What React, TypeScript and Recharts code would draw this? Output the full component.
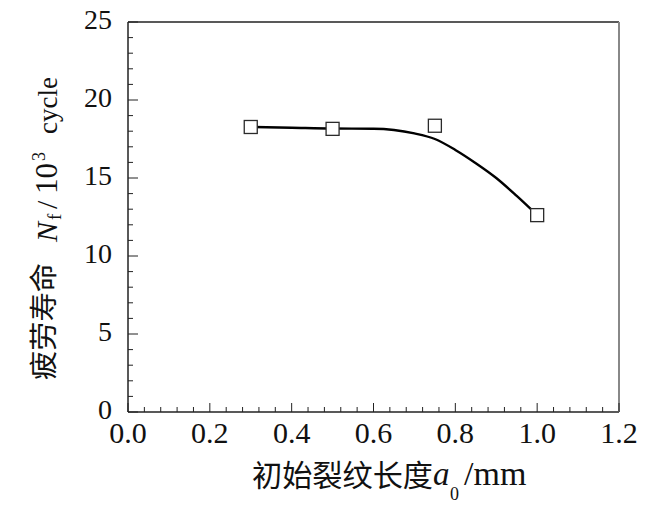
import React from "react";
import {
  ComposedChart,
  Line,
  Scatter,
  XAxis,
  YAxis,
  Label,
} from "recharts";

// measured points (initial crack length a0 in mm, fatigue life in 10^3 cycles)
const measured = [
  { x: 0.3, y: 18.27 },
  { x: 0.5, y: 18.15 },
  { x: 0.75, y: 18.35 },
  { x: 1.0, y: 12.62 },
];

// fitted curve
const fitted = [
  { x: 0.3, y: 18.27 },
  { x: 0.4, y: 18.22 },
  { x: 0.5, y: 18.17 },
  { x: 0.6, y: 18.16 },
  { x: 0.65, y: 18.08 },
  { x: 0.7, y: 17.86 },
  { x: 0.75, y: 17.5 },
  { x: 0.8, y: 16.8 },
  { x: 0.85, y: 15.95 },
  { x: 0.9, y: 15.0 },
  { x: 0.95, y: 13.85 },
  { x: 1.0, y: 12.62 },
];

const xMajor = [0, 0.2, 0.4, 0.6, 0.8, 1.0, 1.2];
const xMinor = [
  0.04, 0.08, 0.12, 0.16, 0.24, 0.28, 0.32, 0.36, 0.44, 0.48, 0.52, 0.56,
  0.64, 0.68, 0.72, 0.76, 0.84, 0.88, 0.92, 0.96, 1.04, 1.08, 1.12, 1.16,
];
const yMajor = [0, 5, 10, 15, 20, 25];
const yMinor = [1, 2, 3, 4, 6, 7, 8, 9, 11, 12, 13, 14, 16, 17, 18, 19, 21, 22, 23, 24];

const serif = "Liberation Serif, Tinos, Times New Roman, DejaVu Serif, serif";
const cjk = "Noto Sans CJK SC, sans-serif";
const ink = "#222";

const isMajor = (list: number[], v: number) => list.some((m) => Math.abs(m - v) < 1e-9);

const XTick = (props: any) => {
  const { x, y, payload } = props;
  const major = isMajor(xMajor, payload.value);
  return (
    <g>
      <line x1={x} x2={x} y1={y} y2={y - (major ? 9 : 5)} stroke={ink} strokeWidth={1} />
      {major && (
        <text x={x} y={y + 31} textAnchor="middle" style={{ fontFamily: serif, fontSize: 30 }} fill="#111">
          {payload.value.toFixed(1)}
        </text>
      )}
    </g>
  );
};

const YTick = (props: any) => {
  const { x, y, payload } = props;
  const major = isMajor(yMajor, payload.value);
  return (
    <g>
      <line x1={x} x2={x + (major ? 10 : 5)} y1={y} y2={y} stroke={ink} strokeWidth={1} />
      {major && (
        <text x={x - 16} y={y + 7} textAnchor="end" style={{ fontFamily: serif, fontSize: 28 }} fill="#111">
          {payload.value}
        </text>
      )}
    </g>
  );
};

const SquareDot = (props: any) => {
  const { cx, cy } = props;
  if (cx == null || cy == null) return null;
  return <rect x={cx - 6.5} y={cy - 6.5} width={13} height={13} fill="#fff" stroke="#2a2a2a" strokeWidth={1.3} />;
};

const XTitle = () => (
  <g fill="#111">
    <text x={252} y={486} style={{ fontFamily: cjk, fontSize: 30 }} textLength={181} lengthAdjust="spacingAndGlyphs">
      初始裂纹长度
    </text>
    <text x={433} y={485} style={{ fontFamily: serif, fontSize: 33, fontStyle: "italic" }}>
      a
    </text>
    <text x={450} y={500} style={{ fontFamily: serif, fontSize: 18 }}>
      0
    </text>
    <text x={464} y={485} style={{ fontFamily: serif, fontSize: 34 }}>
      /mm
    </text>
  </g>
);

const YTitle = () => (
  <g fill="#111" transform="rotate(-90)">
    <text x={-380} y={54} style={{ fontFamily: cjk, fontSize: 28 }} textLength={117} lengthAdjust="spacingAndGlyphs">
      疲劳寿命
    </text>
    <text x={-242} y={57} style={{ fontFamily: serif, fontSize: 30, fontStyle: "italic" }}>
      N
    </text>
    <text x={-220} y={61} style={{ fontFamily: serif, fontSize: 19 }}>
      f
    </text>
    <text x={-209} y={57} style={{ fontFamily: serif, fontSize: 30 }}>
      /
    </text>
    <text x={-194} y={57} style={{ fontFamily: serif, fontSize: 31 }}>
      10
    </text>
    <text x={-161} y={45} style={{ fontFamily: serif, fontSize: 18 }}>
      3
    </text>
    <text x={-134} y={57} style={{ fontFamily: serif, fontSize: 27 }}>
      cycle
    </text>
  </g>
);

export default function App() {
  return (
    <div style={{ position: "absolute", left: 0, top: 0, background: "#fff" }}>
      <ComposedChart
        width={660}
        height={508}
        margin={{ top: 21, right: 40, bottom: 95, left: 127 }}
      >
        <XAxis
          xAxisId="b"
          type="number"
          dataKey="x"
          domain={[0, 1.2]}
          ticks={[...xMajor, ...xMinor].sort((a, b) => a - b)}
          interval={0}
          height={1}
          tickSize={0}
          tickMargin={0}
          tickLine={false}
          tick={<XTick />}
          axisLine={{ stroke: ink, strokeWidth: 1.5 }}
          allowDataOverflow
        >
          <Label content={() => <XTitle />} />
        </XAxis>
        <XAxis
          xAxisId="t"
          orientation="top"
          type="number"
          domain={[0, 1.2]}
          height={1}
          tick={false}
          tickLine={false}
          axisLine={{ stroke: ink, strokeWidth: 1.5 }}
        />
        <YAxis
          yAxisId="l"
          type="number"
          domain={[0, 25]}
          ticks={[...yMajor, ...yMinor].sort((a, b) => a - b)}
          interval={0}
          width={1}
          tickSize={0}
          tickMargin={0}
          tickLine={false}
          tick={<YTick />}
          axisLine={{ stroke: ink, strokeWidth: 1.5 }}
          allowDataOverflow
        >
          <Label content={() => <YTitle />} />
        </YAxis>
        <YAxis
          yAxisId="r"
          orientation="right"
          type="number"
          domain={[0, 25]}
          width={1}
          tick={false}
          tickLine={false}
          axisLine={{ stroke: "#888", strokeWidth: 2 }}
        />
        <Line
          xAxisId="b"
          yAxisId="l"
          data={fitted}
          dataKey="y"
          type="monotone"
          stroke="#000"
          strokeWidth={2.4}
          dot={false}
          activeDot={false}
          isAnimationActive={false}
        />
        <Scatter
          xAxisId="b"
          yAxisId="l"
          data={measured}
          dataKey="y"
          shape={<SquareDot />}
          isAnimationActive={false}
        />
      </ComposedChart>
    </div>
  );
}
